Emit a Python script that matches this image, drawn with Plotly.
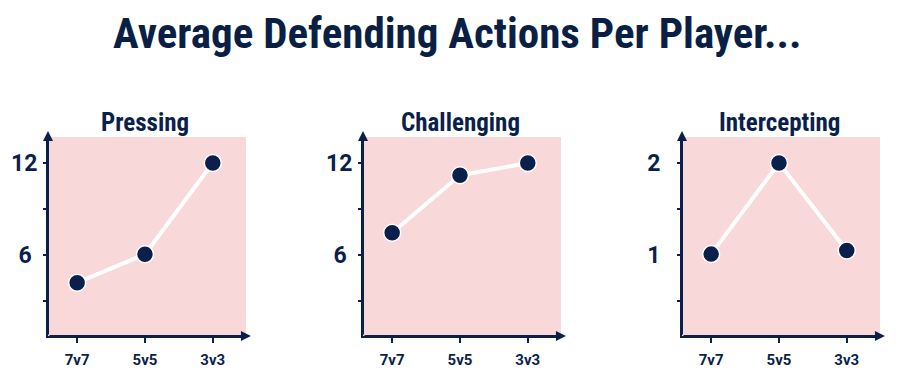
import plotly.graph_objects as go

categories = ["7v7", "5v5", "3v3"]
pressing = [4.2, 6.05, 12.0]
challenging = [7.45, 11.2, 12.0]
intercepting = [1.01, 2.0, 1.05]
panel_titles = ["Pressing", "Challenging", "Intercepting"]
main_title = "Average Defending Actions Per Player..."
tick_vals_big = [3, 6, 9, 12]
tick_text_big = ["", "6\u00a0", "", "12"]
tick_vals_small = [0.5, 1, 1.5, 2]
tick_text_small = ["", "1", "", "2"]

NAVY = "#0b1f4b"
PINK = "#f8d8d8"
TITLE_FONT = "Roboto Condensed, Open Sans Condensed, DejaVu Sans Condensed, sans-serif"

# page has an 8px body margin; figure coordinates are page coordinates - 8
W, H = 896, 382
xdoms = [(40, 238), (355, 553), (674, 872)]
ytop, ybot = 129, 328

fig = go.Figure()
series = [pressing, challenging, intercepting]
yranges = [(0.72, 13.7), (0.72, 13.7), (0.12, 2.283)]
ticks = [(tick_vals_big, tick_text_big), (tick_vals_big, tick_text_big), (tick_vals_small, tick_text_small)]
standoffs = [1, 1, 12]

for i, (vals, title) in enumerate(zip(series, panel_titles)):
    n = "" if i == 0 else str(i + 1)
    fig.add_trace(go.Scatter(
        x=categories, y=vals, mode="lines+markers",
        xaxis="x" + n, yaxis="y" + n,
        line=dict(color="white", width=4),
        marker=dict(size=17, color=NAVY, line=dict(color="white", width=1.5)),
        cliponaxis=False, showlegend=False, hoverinfo="x+y",
    ))
    x0, x1 = xdoms[i]
    fig.update_layout(**{
        "xaxis" + n: dict(
            domain=[x0 / W, x1 / W], anchor="y" + n,
            type="category", range=[-0.43, 2.49],
            showgrid=False, zeroline=False, automargin=False,
            showline=True, linecolor=NAVY, linewidth=2,
            ticks="outside", ticklen=5, tickwidth=2, tickcolor=NAVY,
            ticklabelstandoff=4,
            tickfont=dict(family="Roboto, sans-serif", size=15, color=NAVY, weight="bold"),
            fixedrange=True,
        ),
        "yaxis" + n: dict(
            domain=[1 - ybot / H, 1 - ytop / H], anchor="x" + n,
            range=list(yranges[i]),
            tickvals=ticks[i][0], ticktext=ticks[i][1],
            showgrid=False, zeroline=False, automargin=False,
            showline=True, linecolor=NAVY, linewidth=2,
            ticks="outside", ticklen=3, tickwidth=2, tickcolor=NAVY,
            ticklabelstandoff=standoffs[i],
            tickfont=dict(family="Roboto, sans-serif", size=23, color=NAVY, weight="bold"),
            fixedrange=True,
        ),
    })
    fig.add_shape(type="rect", xref="x" + n + " domain", yref="y" + n + " domain",
                  x0=0, x1=1, y0=0, y1=1, fillcolor=PINK, line=dict(width=0), layer="below")
    # axis arrows
    fig.add_annotation(xref="x" + n + " domain", yref="y" + n + " domain",
                       axref="x" + n + " domain", ayref="y" + n + " domain",
                       x=0, y=1.03, ax=0, ay=0, text="", showarrow=True,
                       arrowhead=2, arrowsize=1, arrowwidth=2, arrowcolor=NAVY)
    fig.add_annotation(xref="x" + n + " domain", yref="y" + n + " domain",
                       axref="x" + n + " domain", ayref="y" + n + " domain",
                       x=1.025, y=0, ax=0, ay=0, text="", showarrow=True,
                       arrowhead=2, arrowsize=1, arrowwidth=2, arrowcolor=NAVY)
    fig.add_annotation(xref="x" + n + " domain", yref="paper",
                       x=0.49, y=1 - 114 / H, text=title, showarrow=False,
                       font=dict(family=TITLE_FONT, size=25, color=NAVY, weight="bold"),
                       xanchor="center", yanchor="middle")

fig.add_annotation(xref="paper", yref="paper", x=449.5 / W, y=1 - 25 / H,
                   text=main_title, showarrow=False,
                   font=dict(family=TITLE_FONT, size=43, color="#0a1f44", weight="bold"),
                   xanchor="center", yanchor="middle")

fig.update_layout(
    width=W, height=H,
    margin=dict(l=0, r=0, t=0, b=0),
    paper_bgcolor="white", plot_bgcolor="rgba(0,0,0,0)",
)

fig.write_html("out.html")
